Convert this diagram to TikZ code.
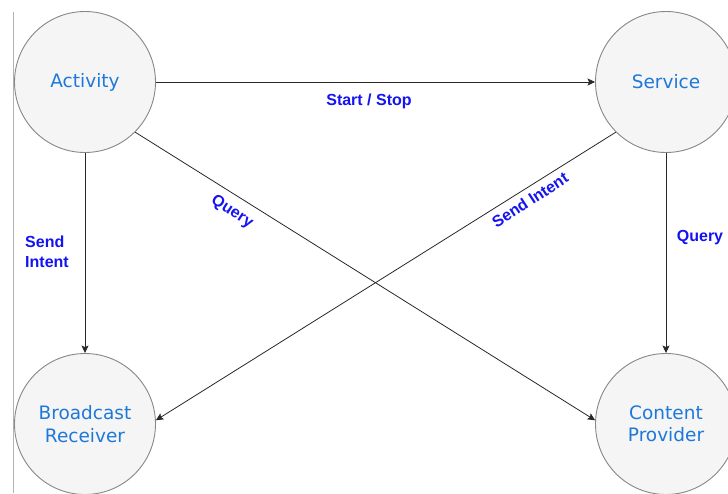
\documentclass[tikz,border=0pt]{standalone}
\usepackage{fontspec}
\setmainfont{Liberation Sans}
\newfontfamily\compfont{DejaVu Sans}
\usetikzlibrary{arrows.meta}
\definecolor{compblue}{RGB}{30,120,216}
\definecolor{labblue}{RGB}{20,20,240}
\definecolor{ringgray}{RGB}{135,135,135}
\definecolor{ringfill}{RGB}{245,245,245}
\definecolor{wire}{RGB}{40,40,40}
\tikzset{
  comp/.style={circle, draw=ringgray, line width=0.9pt, fill=ringfill,
    minimum size=141pt, inner sep=0pt, align=center, text=compblue,
    font=\compfont\fontsize{18.5}{22.5}\selectfont},
  link/.style={draw=wire, line width=0.8pt, -{Stealth[length=7.5pt,width=7pt,inset=1.5pt]}},
  lab/.style={text=labblue, font=\bfseries\fontsize{16}{19.5}\selectfont, inner sep=0pt}
}
\begin{document}
\begin{tikzpicture}[x=1pt,y=-1pt]
  \useasboundingbox (0,0) rectangle (728,493);
  \clip (0,0) rectangle (728,493);
  \fill[white] (0,0) rectangle (728,493);
  % left margin rule
  \draw[color=gray!60, line width=0.8pt] (13.5,12) -- (13.5,493);

  % components
  \node[comp] (act) at (85,82)  {\raisebox{-1.5pt}{Activity}};
  \node[comp] (svc) at (666,82) {\raisebox{-1.5pt}{Service}};
  \node[comp] (br)  at (85,424) {Broadcast\\Receiver};
  \node[comp] (cp)  at (666,424) {Content\\Provider};

  % connectors
  \draw[link] (act) -- (svc);
  \draw[link] (act) -- (br);
  \draw[link] (svc) -- (cp);
  \draw[link] (act.-45) -- (cp.177);
  \draw[link] (svc.225) -- (br.3);

  % labels
  \node[lab] (lstart) at (369,101) {Start / Stop};
  \node[lab, align=left, anchor=west] (lsend) at (25,252) {Send\\Intent};
  \node[lab] (lquery) at (700,238) {Query};
  \node[lab, rotate=-33] (lqdiag) at (232,212) {Query};
  \node[lab, rotate=33] (lsdiag) at (530,200) {Send Intent};
\end{tikzpicture}
\end{document}
